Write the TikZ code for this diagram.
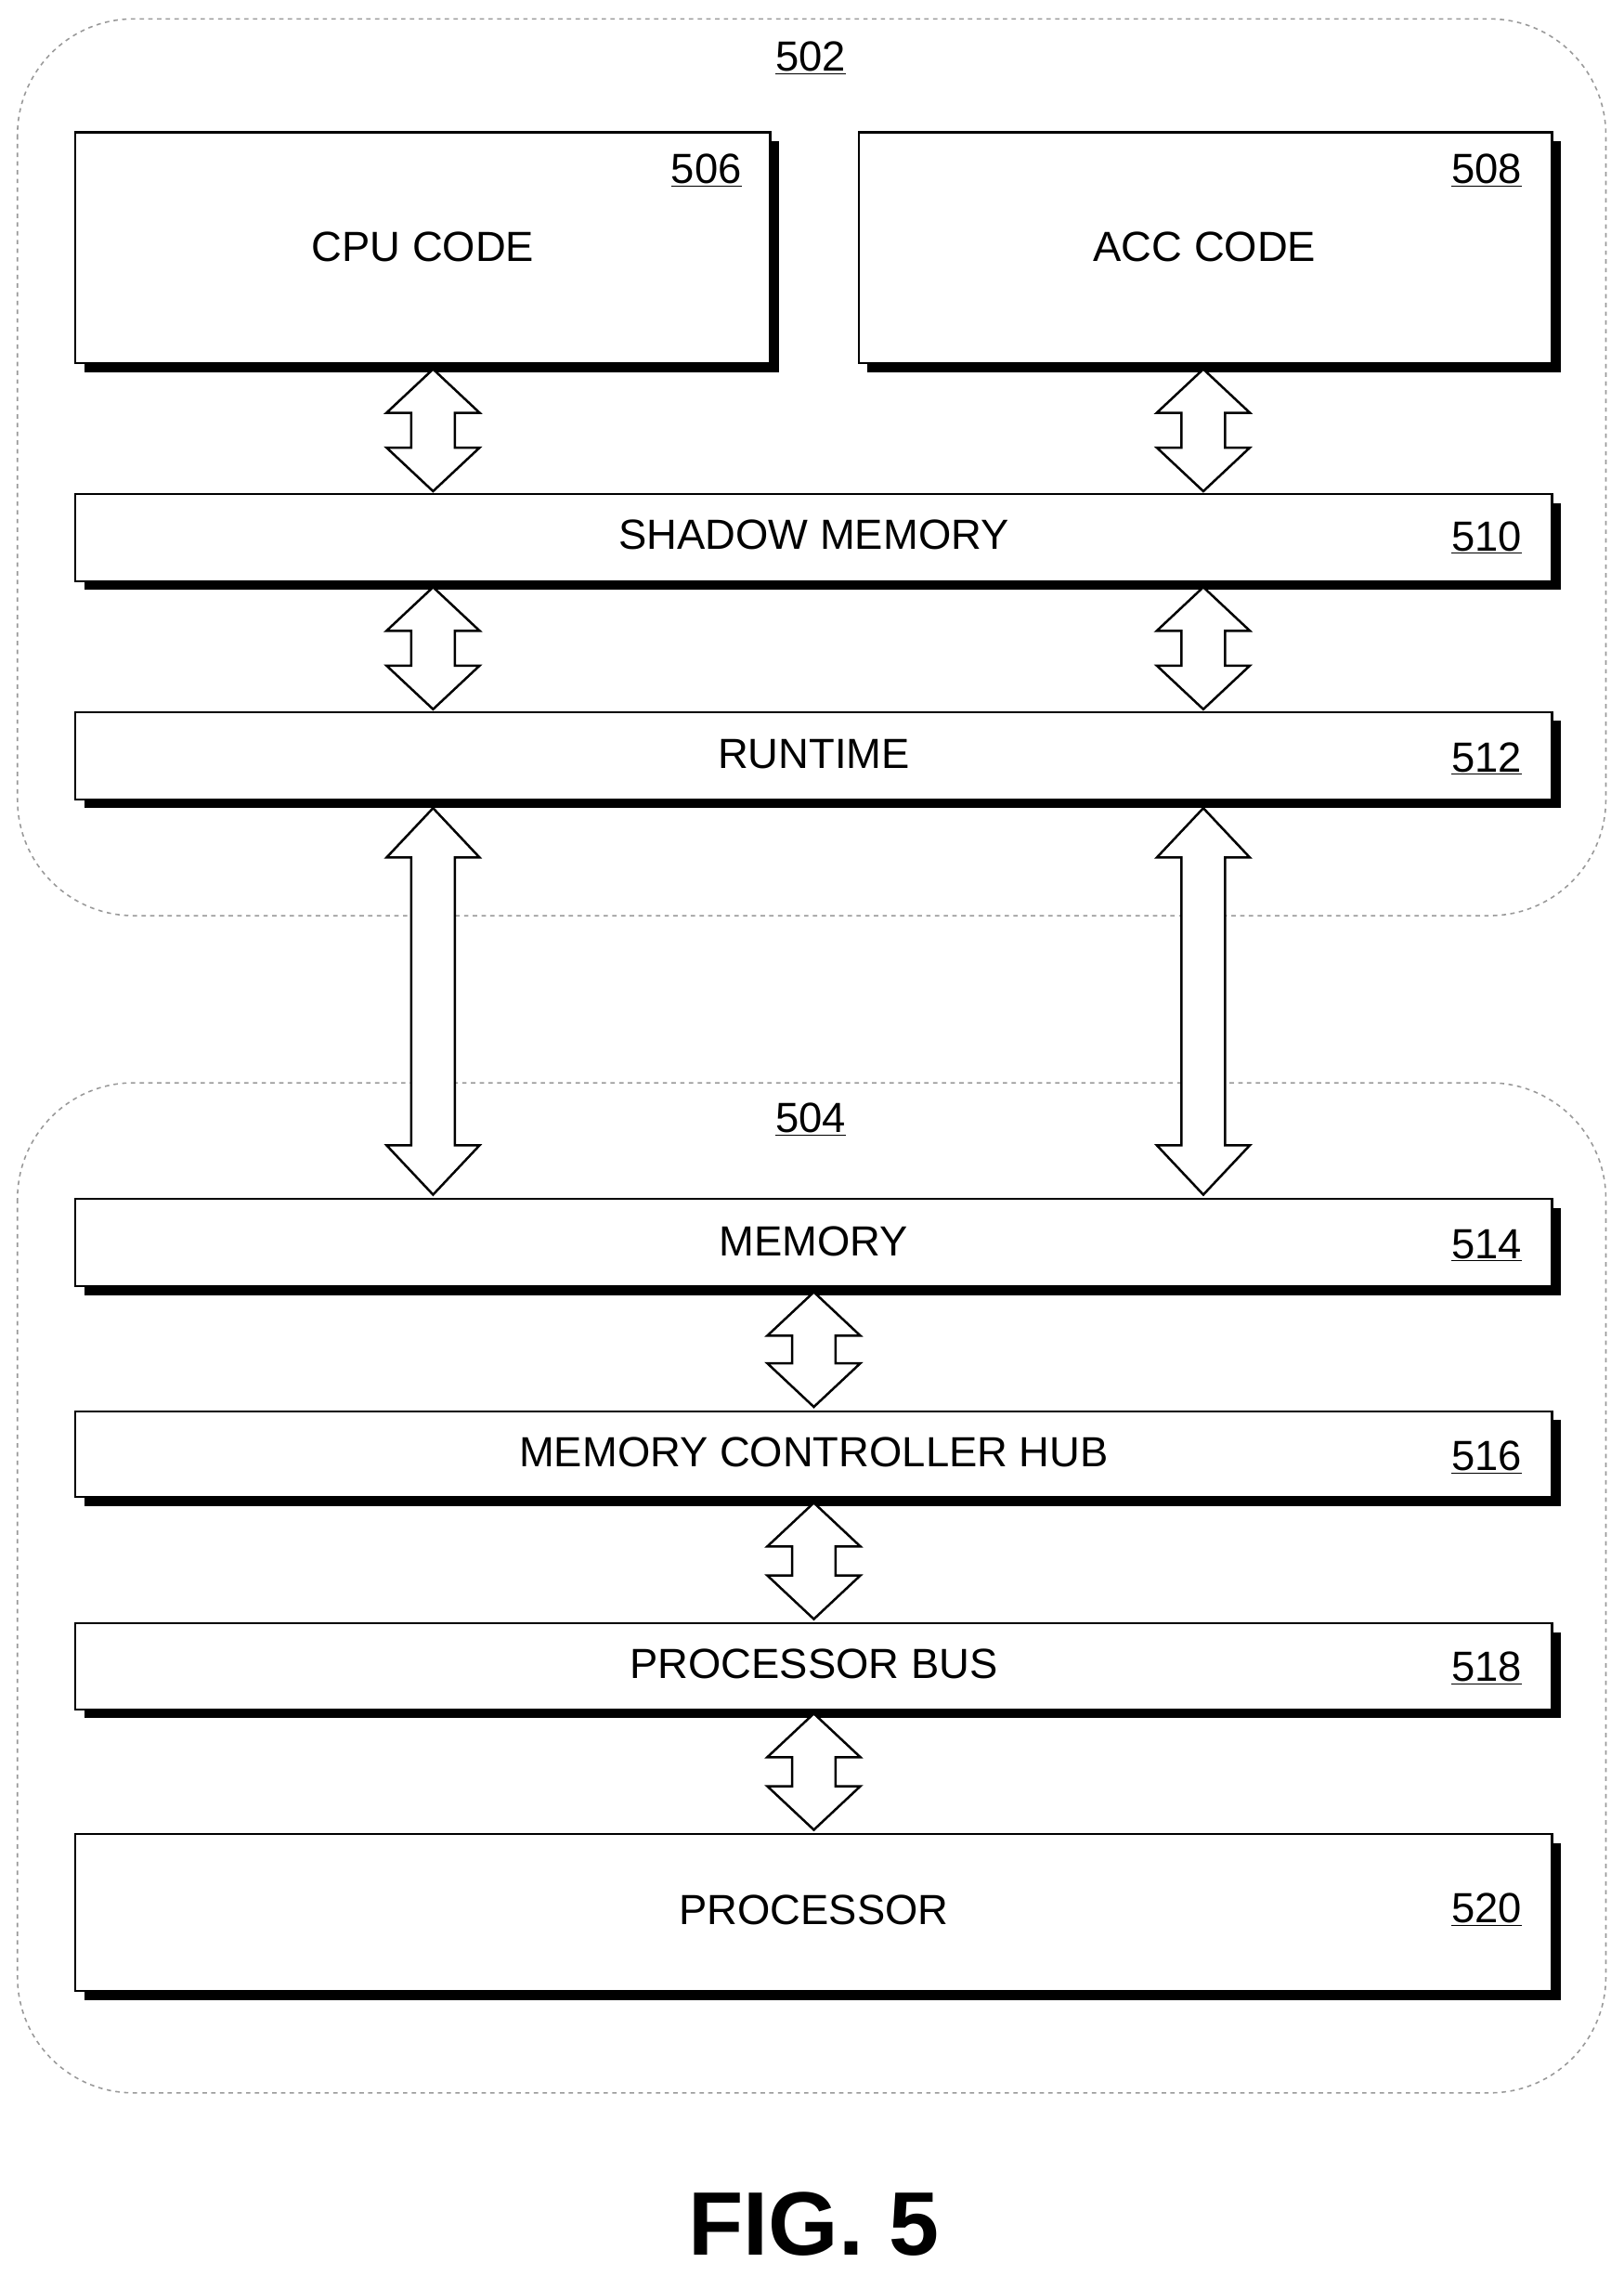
\documentclass[tikz,border=0pt]{standalone}
\usepackage{fontspec}
\setmainfont{Liberation Sans}
\begin{document}
\begin{tikzpicture}[x=1pt,y=-1pt,
  grp/.style={draw=gray!80,dashed,line width=1pt,rounded corners=80pt},
  txt/.style={font=\fontsize{29}{34}\selectfont,inner sep=0pt},
  num/.style={font=\fontsize{29}{34}\selectfont,inner sep=0pt},
  arr/.style={draw=black,fill=white,line width=1.6pt,line join=miter}]
\useasboundingbox (0,0) rectangle (1117,1566);
\newcommand\bx[5]{% name x1 y1 x2 y2
  \fill[black] (#2+6,#3+6) rectangle (#4+6,#5+6);
  \draw[fill=white,line width=1.4pt] (#2,#3) rectangle (#4,#5);
  \coordinate (#1) at (#2,#3);}
\newcommand\dar[4]{% x y1 y2 headlen
  \draw[arr] (#1,#2) -- (#1+32,#2+#4) -- (#1+15,#2+#4) -- (#1+15,#3-#4) -- (#1+32,#3-#4) -- (#1,#3) -- (#1-32,#3-#4) -- (#1-15,#3-#4) -- (#1-15,#2+#4) -- (#1-32,#2+#4) -- cycle;}
\draw[grp] (12,13) rectangle (1105,630);
\draw[grp] (12,745) rectangle (1105,1440);
\node[num] (n502) at (558,40) {\underline{502}};
\node[num] (n504) at (558,770) {\underline{504}};
\bx{b506}{52}{91}{530}{250}
\node[txt] (t506) at (291,170) {CPU CODE};
\node[num] (n506) at (486,117) {\underline{506}};
\bx{b508}{591}{91}{1068}{250}
\node[txt] (t508) at (829,170) {ACC CODE};
\node[num] (n508) at (1023,117) {\underline{508}};
\bx{b510}{52}{340}{1068}{400}
\node[txt] (t510) at (560,368) {SHADOW MEMORY};
\node[num] (n510) at (1023,370) {\underline{510}};
\bx{b512}{52}{490}{1068}{550}
\node[txt] (t512) at (560,519) {RUNTIME};
\node[num] (n512) at (1023,522) {\underline{512}};
\bx{b514}{52}{825}{1068}{885}
\node[txt] (t514) at (560,854) {MEMORY};
\node[num] (n514) at (1023,857) {\underline{514}};
\bx{b516}{52}{971}{1068}{1030}
\node[txt] (t516) at (560,999) {MEMORY CONTROLLER HUB};
\node[num] (n516) at (1023,1003) {\underline{516}};
\bx{b518}{52}{1117}{1068}{1176}
\node[txt] (t518) at (560,1145) {PROCESSOR BUS};
\node[num] (n518) at (1023,1148) {\underline{518}};
\bx{b520}{52}{1262}{1068}{1370}
\node[txt] (t520) at (560,1314) {PROCESSOR};
\node[num] (n520) at (1023,1314) {\underline{520}};
\dar{298}{254}{338}{30}
\dar{828}{254}{338}{30}
\dar{298}{404}{488}{30}
\dar{828}{404}{488}{30}
\dar{298}{556}{822}{34}
\dar{828}{556}{822}{34}
\dar{560}{889}{968}{30}
\dar{560}{1034}{1114}{30}
\dar{560}{1179}{1259}{30}
\node[font=\bfseries\fontsize{62}{70}\selectfont,inner sep=0pt] (fig) at (560,1530) {FIG. 5};
\end{tikzpicture}
\end{document}
